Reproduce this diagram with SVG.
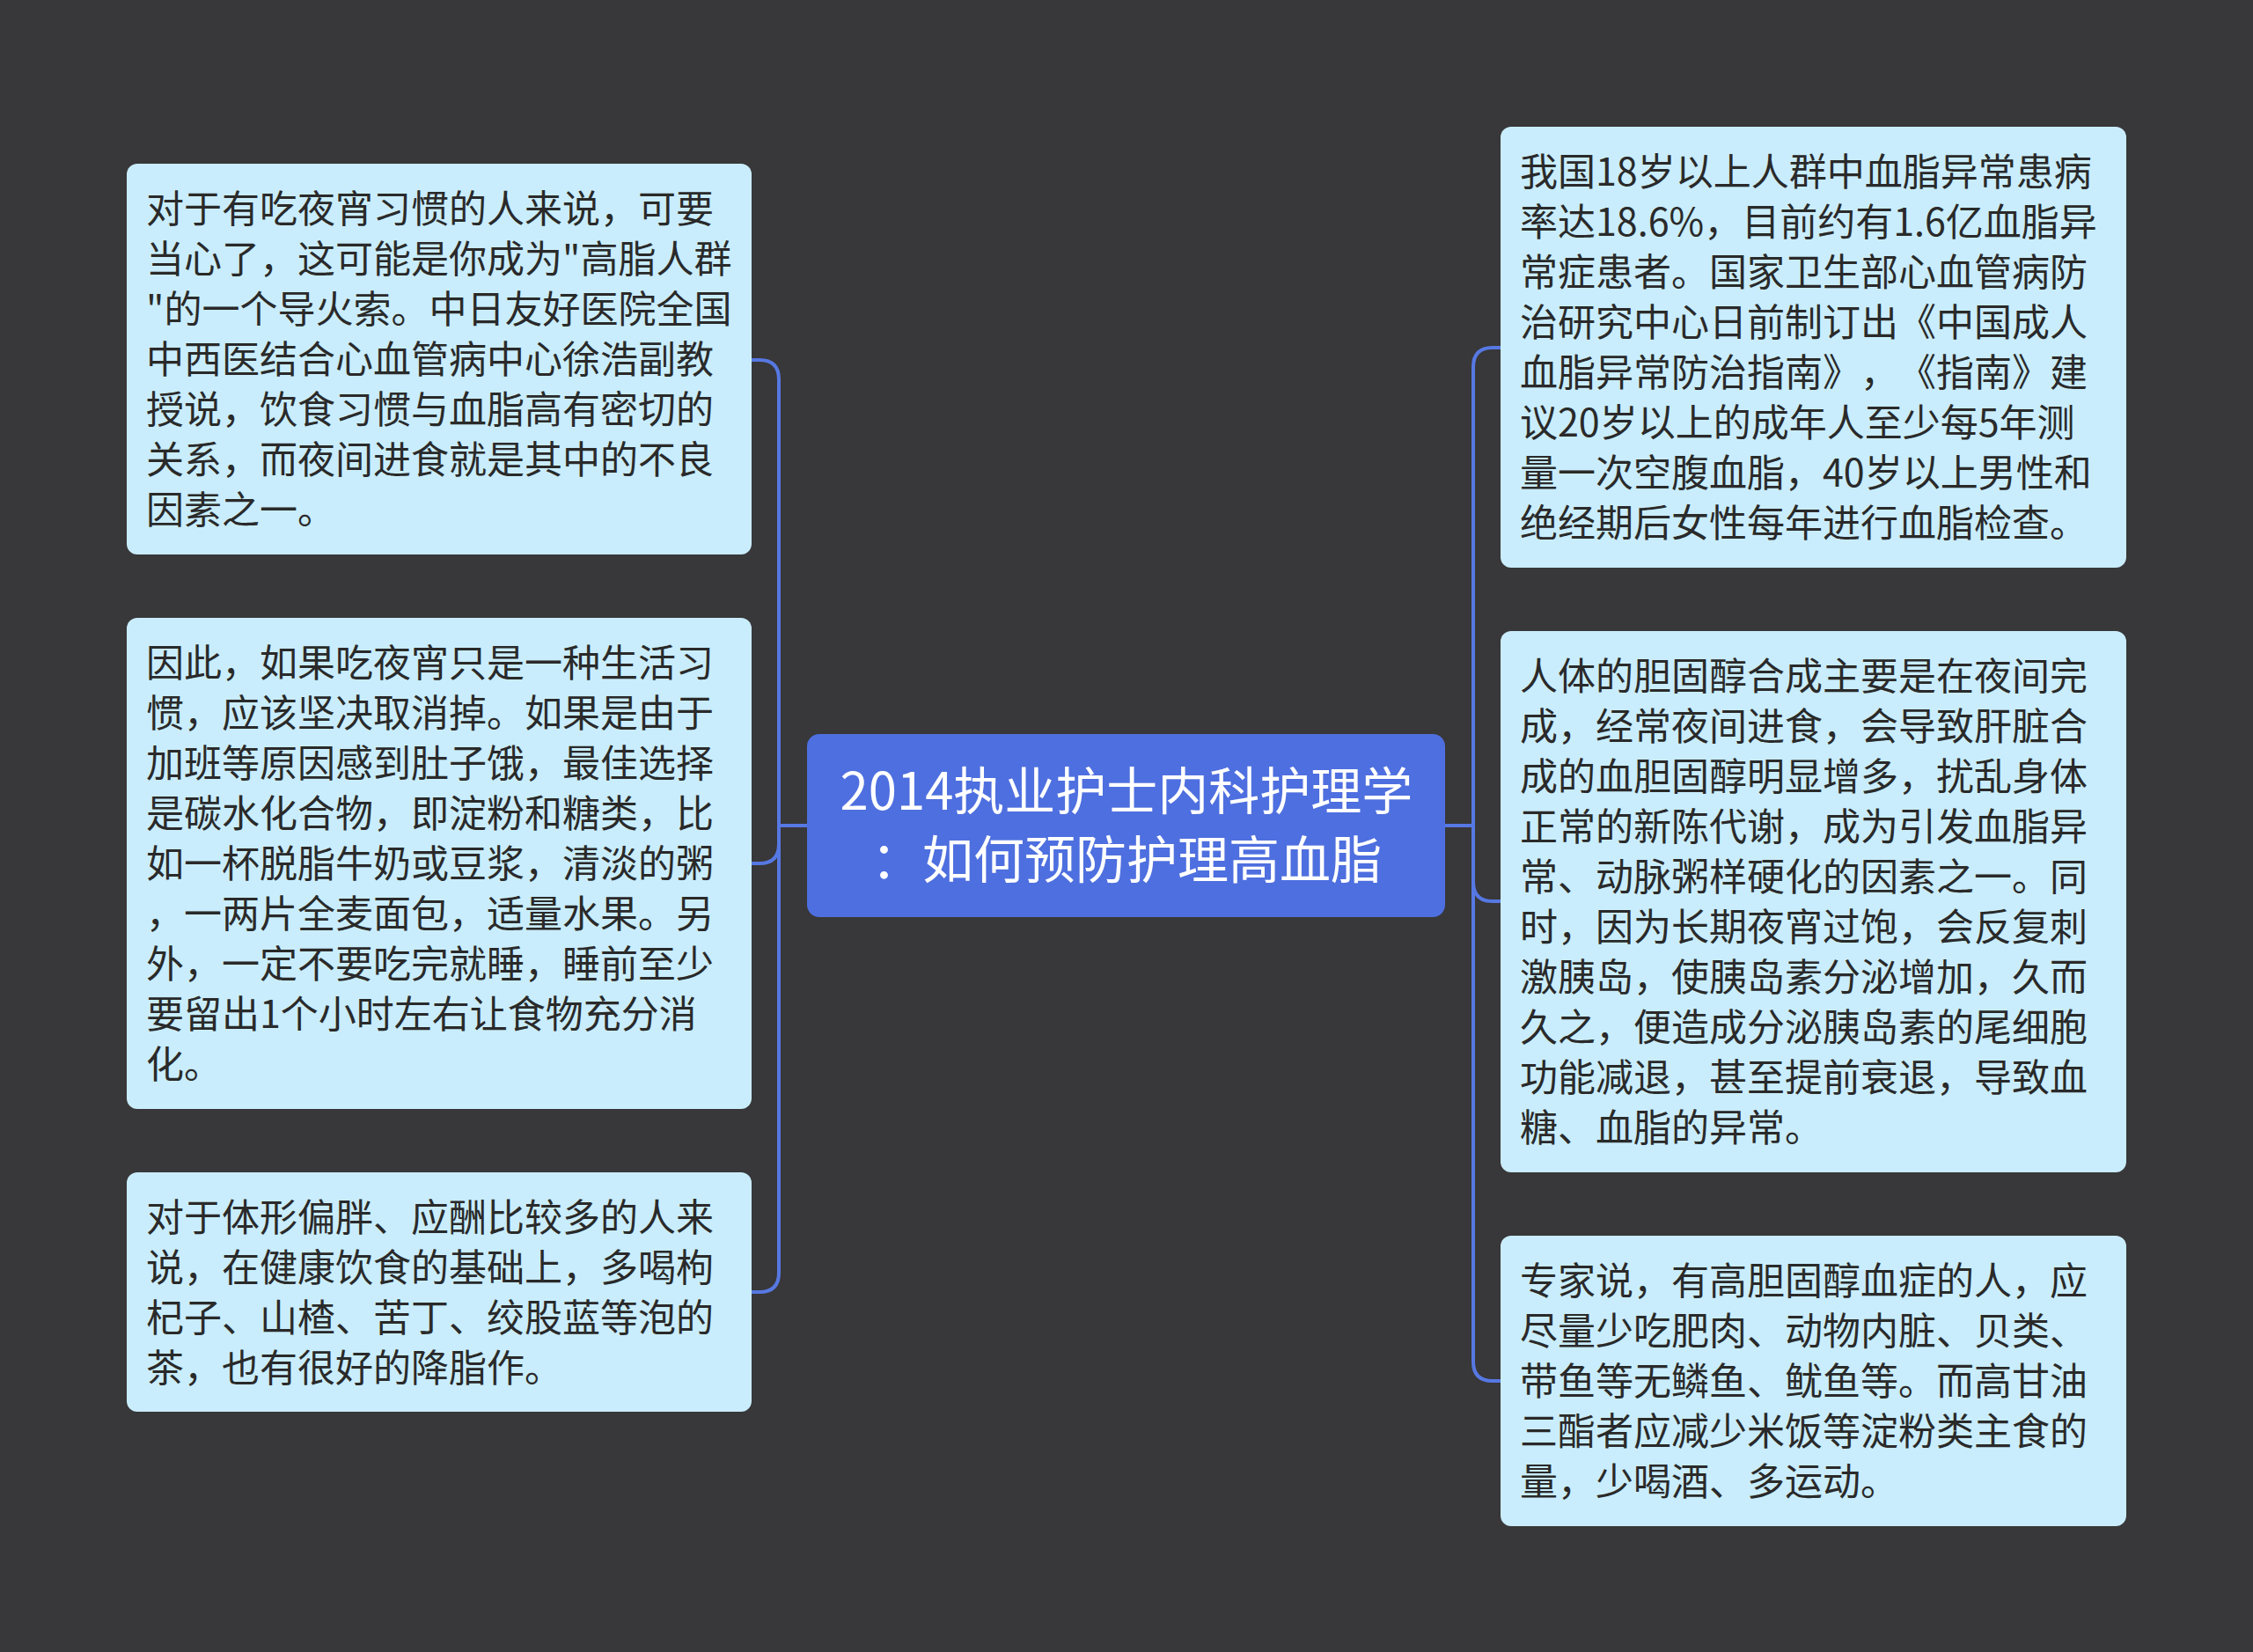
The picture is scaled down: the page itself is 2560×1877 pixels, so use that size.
<svg xmlns="http://www.w3.org/2000/svg" width="2560" height="1877" viewBox="0 0 2560 1877">
<style>
.bg{fill:#383739}
.node{fill:#c9edfc}
.root{fill:#4e6fdf}
.t{font-family:"Noto Sans CJK SC","Noto Sans",sans-serif;font-size:43px;fill:#2a2a2a;text-spacing-trim:space-all;font-kerning:none}
.rt{font-family:"Noto Sans CJK SC","Noto Sans",sans-serif;font-size:58px;fill:#ffffff;text-anchor:middle;text-spacing-trim:space-all}
.c{fill:none;stroke:#5678e2;stroke-width:4;stroke-linecap:round;stroke-linejoin:round}
</style>
<rect class="bg" x="0" y="0" width="2560" height="1877"/>
<g id="connectors">
<path class="c" d="M917,938 H885"/>
<path class="c" d="M885,938 V431 Q885,409 863,409 H854"/>
<path class="c" d="M885,938 V959 Q885,981 863,981 H854"/>
<path class="c" d="M885,938 V1446 Q885,1468 863,1468 H854"/>
<path class="c" d="M1642,938 H1674"/>
<path class="c" d="M1674,938 V417 Q1674,395 1696,395 H1705"/>
<path class="c" d="M1674,938 V1002 Q1674,1024 1696,1024 H1705"/>
<path class="c" d="M1674,938 V1547 Q1674,1569 1696,1569 H1705"/>
</g>
<g id="root">
<rect class="root" x="917" y="834" width="725" height="208" rx="14"/>
<text class="rt" x="1280" y="920">2014执业护士内科护理学</text>
<text class="rt" x="1280" y="998">：如何预防护理高血脂</text>
</g>
<g id="node-l1">
<rect class="node" x="144" y="186" width="710" height="444" rx="12"/>
<text class="t" x="166" y="253">
<tspan x="166">对于有吃夜宵习惯的人来说，可要</tspan>
<tspan x="166" dy="57">当心了，这可能是你成为"高脂人群</tspan>
<tspan x="166" dy="57">"的一个导火索。中日友好医院全国</tspan>
<tspan x="166" dy="57">中西医结合心血管病中心徐浩副教</tspan>
<tspan x="166" dy="57">授说，饮食习惯与血脂高有密切的</tspan>
<tspan x="166" dy="57">关系，而夜间进食就是其中的不良</tspan>
<tspan x="166" dy="57">因素之一。</tspan>
</text>
</g>
<g id="node-l2">
<rect class="node" x="144" y="702" width="710" height="558" rx="12"/>
<text class="t" x="166" y="769">
<tspan x="166">因此，如果吃夜宵只是一种生活习</tspan>
<tspan x="166" dy="57">惯，应该坚决取消掉。如果是由于</tspan>
<tspan x="166" dy="57">加班等原因感到肚子饿，最佳选择</tspan>
<tspan x="166" dy="57">是碳水化合物，即淀粉和糖类，比</tspan>
<tspan x="166" dy="57">如一杯脱脂牛奶或豆浆，清淡的粥</tspan>
<tspan x="166" dy="57">，一两片全麦面包，适量水果。另</tspan>
<tspan x="166" dy="57">外，一定不要吃完就睡，睡前至少</tspan>
<tspan x="166" dy="57">要留出1个小时左右让食物充分消</tspan>
<tspan x="166" dy="57">化。</tspan>
</text>
</g>
<g id="node-l3">
<rect class="node" x="144" y="1332" width="710" height="272" rx="12"/>
<text class="t" x="166" y="1399">
<tspan x="166">对于体形偏胖、应酬比较多的人来</tspan>
<tspan x="166" dy="57">说，在健康饮食的基础上，多喝枸</tspan>
<tspan x="166" dy="57">杞子、山楂、苦丁、绞股蓝等泡的</tspan>
<tspan x="166" dy="57">茶，也有很好的降脂作。</tspan>
</text>
</g>
<g id="node-r1">
<rect class="node" x="1705" y="144" width="711" height="501" rx="12"/>
<text class="t" x="1727" y="211">
<tspan x="1727">我国18岁以上人群中血脂异常患病</tspan>
<tspan x="1727" dy="57">率达18.6%，目前约有1.6亿血脂异</tspan>
<tspan x="1727" dy="57">常症患者。国家卫生部心血管病防</tspan>
<tspan x="1727" dy="57">治研究中心日前制订出《中国成人</tspan>
<tspan x="1727" dy="57">血脂异常防治指南》，《指南》建</tspan>
<tspan x="1727" dy="57">议20岁以上的成年人至少每5年测</tspan>
<tspan x="1727" dy="57">量一次空腹血脂，40岁以上男性和</tspan>
<tspan x="1727" dy="57">绝经期后女性每年进行血脂检查。</tspan>
</text>
</g>
<g id="node-r2">
<rect class="node" x="1705" y="717" width="711" height="615" rx="12"/>
<text class="t" x="1727" y="784">
<tspan x="1727">人体的胆固醇合成主要是在夜间完</tspan>
<tspan x="1727" dy="57">成，经常夜间进食，会导致肝脏合</tspan>
<tspan x="1727" dy="57">成的血胆固醇明显增多，扰乱身体</tspan>
<tspan x="1727" dy="57">正常的新陈代谢，成为引发血脂异</tspan>
<tspan x="1727" dy="57">常、动脉粥样硬化的因素之一。同</tspan>
<tspan x="1727" dy="57">时，因为长期夜宵过饱，会反复刺</tspan>
<tspan x="1727" dy="57">激胰岛，使胰岛素分泌增加，久而</tspan>
<tspan x="1727" dy="57">久之，便造成分泌胰岛素的尾细胞</tspan>
<tspan x="1727" dy="57">功能减退，甚至提前衰退，导致血</tspan>
<tspan x="1727" dy="57">糖、血脂的异常。</tspan>
</text>
</g>
<g id="node-r3">
<rect class="node" x="1705" y="1404" width="711" height="330" rx="12"/>
<text class="t" x="1727" y="1471">
<tspan x="1727">专家说，有高胆固醇血症的人，应</tspan>
<tspan x="1727" dy="57">尽量少吃肥肉、动物内脏、贝类、</tspan>
<tspan x="1727" dy="57">带鱼等无鳞鱼、鱿鱼等。而高甘油</tspan>
<tspan x="1727" dy="57">三酯者应减少米饭等淀粉类主食的</tspan>
<tspan x="1727" dy="57">量，少喝酒、多运动。</tspan>
</text>
</g>
</svg>
